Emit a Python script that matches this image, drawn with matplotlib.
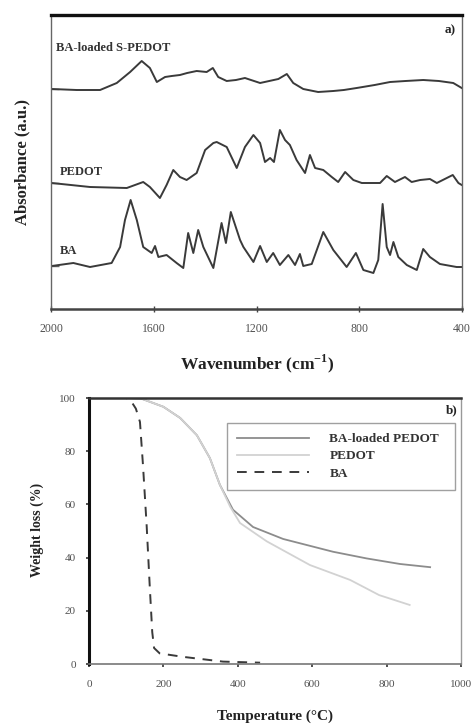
import matplotlib
matplotlib.use("Agg")
import matplotlib.pyplot as plt

plt.rcParams['font.family'] = ['Liberation Serif', 'DejaVu Serif']
plt.rcParams['mathtext.fontset'] = 'custom'
plt.rcParams['mathtext.rm'] = 'Liberation Serif'
plt.rcParams['mathtext.bf'] = 'Liberation Serif:bold'

# ---- FTIR spectra (cm-1, stacked absorbance in a.u.) ----
wn_spedot = [1997, 1900, 1809, 1744, 1692, 1647, 1615, 1588, 1556, 1530, 1498, 1470, 1433, 1394, 1370,
             1349, 1316, 1280, 1245, 1186, 1115, 1082, 1057, 1018, 960, 901, 860, 810, 740, 680,
             620, 551, 490, 434, 401]
abs_spedot = [2.20, 2.19, 2.19, 2.26, 2.37, 2.48, 2.41, 2.27, 2.32, 2.33, 2.34, 2.36, 2.38, 2.37, 2.41,
              2.32, 2.28, 2.29, 2.31, 2.26, 2.30, 2.35, 2.26, 2.20, 2.17, 2.18, 2.19, 2.21, 2.24, 2.27,
              2.28, 2.29, 2.28, 2.26, 2.21]

wn_pedot = [1997, 1848, 1705, 1641, 1615, 1576, 1550, 1524, 1498, 1472, 1433, 1400, 1368, 1355, 1316,
            1277, 1245, 1212, 1186, 1167, 1147, 1132, 1109, 1089, 1070, 1044, 1011, 992, 972, 940,
            907, 882, 855, 823, 790, 719, 693, 661, 622, 596, 563, 525, 498, 436, 414, 401]
abs_pedot = [1.26, 1.22, 1.21, 1.27, 1.22, 1.11, 1.24, 1.39, 1.32, 1.29, 1.36, 1.59, 1.66, 1.67, 1.62,
             1.41, 1.62, 1.74, 1.66, 1.47, 1.51, 1.47, 1.79, 1.69, 1.64, 1.49, 1.36, 1.54, 1.41, 1.39,
             1.32, 1.27, 1.37, 1.29, 1.26, 1.26, 1.33, 1.27, 1.32, 1.27, 1.29, 1.30, 1.26, 1.34, 1.26,
             1.24]

wn_ba = [1997, 1913, 1848, 1764, 1731, 1712, 1690, 1666, 1641, 1608, 1595, 1582, 1550, 1511, 1485,
         1466, 1446, 1427, 1407, 1368, 1336, 1319, 1300, 1264, 1251, 1212, 1186, 1160, 1135, 1109,
         1076, 1050, 1031, 1018, 985, 940, 901, 849, 813, 784, 745, 726, 709, 693, 680,
         667, 648, 615, 576, 551, 525, 486, 421, 401]
abs_ba = [0.43, 0.46, 0.42, 0.46, 0.62, 0.89, 1.09, 0.89, 0.62, 0.56, 0.63, 0.52, 0.54, 0.46, 0.41,
          0.76, 0.56, 0.79, 0.62, 0.41, 0.86, 0.66, 0.97, 0.69, 0.62, 0.47, 0.63, 0.47, 0.56, 0.44,
          0.54, 0.44, 0.55, 0.43, 0.45, 0.77, 0.59, 0.42, 0.56, 0.39, 0.36, 0.49, 1.05, 0.62, 0.54,
          0.67, 0.52, 0.44, 0.39, 0.60, 0.52, 0.45, 0.42, 0.42]

wn_ticks = [2000, 1600, 1200, 800, 400]

# ---- TGA curves (temperature in C, remaining weight in %) ----
temp_ba_pedot = [30, 100, 140, 200, 245, 290, 325, 352, 387, 441, 522, 656, 746, 836, 917]
wt_ba_pedot = [100, 100, 99.8, 96.7, 92.5, 86, 77.4, 67.3, 58, 51.5, 47, 42.2, 39.7, 37.6, 36.4]

temp_pedot = [30, 100, 140, 200, 245, 290, 325, 352, 380, 406, 478, 594, 702, 780, 862]
wt_pedot = [100, 100, 99.8, 96.7, 92.5, 86, 77.4, 67.3, 59, 53, 46.1, 37.2, 31.6, 25.9, 22.2]

temp_ba = [30, 100, 110, 126, 137, 145, 155, 163, 170, 175, 190, 252, 306, 360, 460]
wt_ba = [100, 100, 99.5, 96, 91, 75, 52, 30, 12, 6, 4, 2.7, 1.8, 0.9, 0.5]

temp_ticks = [0, 200, 400, 600, 800, 1000]
wt_ticks = [0, 20, 40, 60, 80, 100]

legend_labels = ["BA-loaded PEDOT", "PEDOT", "BA"]

W, H = 474, 725
fig = plt.figure(figsize=(W / 100, H / 100), dpi=100)
fig.patch.set_facecolor("white")

def fx(px):
    return px / W

def fy(py):
    return 1 - py / H

tick_color = "#505050"
line_dark = "#3a3a3a"

# ---------------- panel a ----------------
ax1 = fig.add_axes([fx(51), fy(309), fx(462) - fx(51), fy(15) - fy(309)])
ax1.plot(wn_spedot, abs_spedot, color=line_dark, lw=1.4)
ax1.plot(wn_pedot, abs_pedot, color=line_dark, lw=1.4)
ax1.plot(wn_ba, abs_ba, color=line_dark, lw=1.4)
ax1.set_xlim(2000, 400)
ax1.set_ylim(0, 2.94)
ax1.set_xticks(wn_ticks)
ax1.set_xticklabels([str(t) for t in wn_ticks])
# short inward marks at each trace's baseline
ax1.set_yticks([abs_ba[0], abs_pedot[0], abs_spedot[0]])
ax1.set_yticklabels([])
ax1.tick_params(axis="y", direction="in", length=6, width=1, colors="#666666")
ax1.tick_params(axis="x", direction="inout", length=4, width=1, colors="#444444",
                labelsize=8.5, labelcolor=tick_color, pad=8)
ax1.spines["top"].set_linewidth(2.4)
ax1.spines["top"].set_color("#111111")
ax1.spines["bottom"].set_linewidth(1.8)
ax1.spines["bottom"].set_color("#444444")
for s in ("left", "right"):
    ax1.spines[s].set_linewidth(1.0)
    ax1.spines[s].set_color("#666666")

lab_kw = dict(fontsize=9, fontweight="bold", color="#333333", transform=ax1.transAxes)
ax1.text(0.012, 0.888, "BA-loaded S-PEDOT", ha="left", va="center", **lab_kw)
ax1.text(0.022, 0.467, "PEDOT", ha="left", va="center", **lab_kw)
ax1.text(0.022, 0.198, "BA", ha="left", va="center", **lab_kw)
ax1.text(0.985, 0.949, "a)", ha="right", va="center", fontsize=9.5, fontweight="bold",
         color="#222222", transform=ax1.transAxes)

fig.text(fx(257), fy(364), "Wavenumber (cm$^{\\mathbf{-1}}$)", ha="center", va="center",
         fontsize=12.5, fontweight="bold", color="#222222")
fig.text(fx(22), fy(162), "Absorbance (a.u.)", ha="center", va="center", rotation=90,
         fontsize=12, fontweight="bold", color="#222222")

# ---------------- panel b ----------------
ax2 = fig.add_axes([fx(89), fy(664), fx(461) - fx(89), fy(398) - fy(664)])
h1, = ax2.plot(temp_ba_pedot, wt_ba_pedot, color="#8c8c8c", lw=1.3)
h2, = ax2.plot(temp_pedot, wt_pedot, color="#d2d2d2", lw=1.3)
h3, = ax2.plot(temp_ba, wt_ba, color="#3a3a3a", lw=1.4, dashes=(5, 4))
ax2.set_xlim(0, 1000)
ax2.set_ylim(0, 100)
ax2.set_xticks(temp_ticks)
ax2.set_xticklabels([str(t) for t in temp_ticks])
ax2.set_yticks(wt_ticks)
ax2.set_yticklabels([str(t) for t in wt_ticks])
ax2.tick_params(axis="both", direction="out", length=2.5, width=1.2, colors="#333333",
                labelsize=8, labelcolor=tick_color)
ax2.tick_params(axis="x", pad=9)
ax2.tick_params(axis="y", pad=7)
ax2.spines["left"].set_linewidth(2.2)
ax2.spines["left"].set_color("#111111")
ax2.spines["top"].set_linewidth(1.8)
ax2.spines["top"].set_color("#333333")
ax2.spines["bottom"].set_linewidth(1.2)
ax2.spines["bottom"].set_color("#777777")
ax2.spines["right"].set_linewidth(1.0)
ax2.spines["right"].set_color("#999999")

leg = ax2.legend([h1, h2, h3], legend_labels, loc="upper left",
                 bbox_to_anchor=(0.371, 0.658, 0.613, 0.248), mode="expand",
                 frameon=True, fancybox=False, handlelength=5.5, handletextpad=1.5,
                 labelspacing=0.38, borderpad=0.75, borderaxespad=0,
                 prop=dict(family=["Liberation Serif"], weight="bold", size=9.5))
leg.get_frame().set_edgecolor("#888888")
leg.get_frame().set_linewidth(1.0)
for t in leg.get_texts():
    t.set_color("#333333")

ax2.text(0.99, 0.955, "b)", ha="right", va="center", fontsize=9.5, fontweight="bold",
         color="#222222", transform=ax2.transAxes)

fig.text(fx(275), fy(716), "Temperature (\u00b0C)", ha="center", va="center",
         fontsize=11, fontweight="bold", color="#222222")
fig.text(fx(37), fy(530), "Weight loss (%)", ha="center", va="center", rotation=90,
         fontsize=10, fontweight="bold", color="#222222")

fig.savefig("out.png", dpi=100, facecolor="white")
